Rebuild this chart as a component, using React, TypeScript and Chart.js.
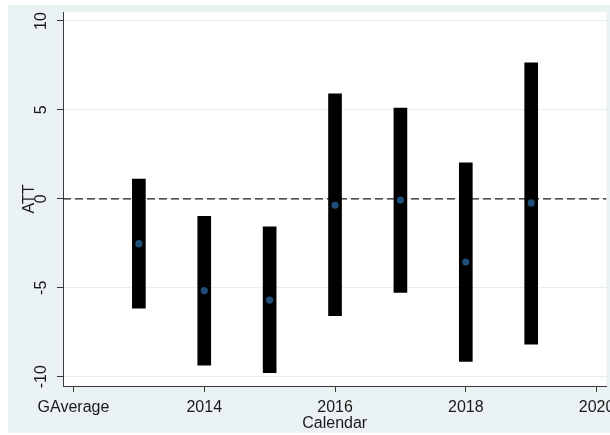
import React, { useEffect, useRef } from "react";
import { Chart, registerables } from "chart.js";

Chart.register(...registerables);

// Event-study estimates by calendar year
const YEARS = [2013, 2014, 2015, 2016, 2017, 2018, 2019];
const ATT = [-2.52, -5.16, -5.69, -0.36, -0.07, -3.55, -0.23];
const CI_LOW = [-6.14, -9.35, -9.78, -6.57, -5.26, -9.14, -8.17];
const CI_HIGH = [1.11, -0.98, -1.58, 5.9, 5.1, 2.03, 7.65];

// Axis ticks
const X_TICKS = [2012, 2014, 2016, 2018, 2020];
const X_TICK_LABELS = ["GAverage", "2014", "2016", "2018", "2020"];
const Y_TICKS = [-10, -5, 0, 5, 10];
const REF_LINE = 0;

const BG = "#eaf2f3";
const TEXT = "#1a1a1a";
const AXIS = "#3a3a3a";
const FONT = "'Liberation Sans', Arial, Helvetica, sans-serif";

const backdrop = {
  id: "backdrop",
  beforeDraw(chart: any) {
    const { ctx, chartArea: a, width, height } = chart;
    ctx.save();
    ctx.fillStyle = BG;
    ctx.fillRect(0, 0, width, height);
    ctx.fillStyle = "#ffffff";
    ctx.fillRect(a.left, a.top, a.right - a.left, a.bottom - a.top);
    ctx.restore();
  },
};

const refLine = {
  id: "refLine",
  beforeDatasetsDraw(chart: any) {
    const { ctx, chartArea: a, scales } = chart;
    const y = scales.y.getPixelForValue(REF_LINE);
    ctx.save();
    ctx.strokeStyle = "#222222";
    ctx.lineWidth = 1.2;
    ctx.setLineDash([8, 4]);
    ctx.beginPath();
    ctx.moveTo(a.left, y);
    ctx.lineTo(a.right, y);
    ctx.stroke();
    ctx.restore();
  },
};

export default function App() {
  const ref = useRef<HTMLCanvasElement | null>(null);

  useEffect(() => {
    if (!ref.current) return;
    const chart = new Chart(ref.current, {
      type: "bar",
      data: {
        datasets: [
          {
            type: "bar",
            data: YEARS.map((x, i) => ({ x, y: [CI_LOW[i], CI_HIGH[i]] })) as any,
            backgroundColor: "#000000",
            borderWidth: 0,
            borderSkipped: false,
            barThickness: 13,
            order: 2,
          },
          {
            type: "scatter",
            data: YEARS.map((x, i) => ({ x, y: ATT[i] })),
            backgroundColor: "#1f4e79",
            borderWidth: 0,
            pointRadius: 3.6,
            pointHoverRadius: 3.6,
            order: 1,
          } as any,
        ],
      },
      options: {
        animation: false,
        responsive: false,
        maintainAspectRatio: false,
        layout: { padding: { top: 7, right: 3.5, bottom: 0, left: 0 } },
        plugins: { legend: { display: false }, tooltip: { enabled: false } },
        scales: {
          x: {
            type: "linear",
            min: 2011.84,
            max: 2020.15,
            offset: false,
            afterBuildTicks: (s: any) => {
              s.ticks = X_TICKS.map((v) => ({ value: v }));
            },
            afterFit: (s: any) => {
              s.height = 47;
              s.paddingLeft = 0;
              s.paddingRight = 0;
            },
            grid: {
              offset: false,
              drawOnChartArea: false,
              drawTicks: true,
              tickLength: 6,
              tickColor: AXIS,
            },
            border: { display: true, color: AXIS, width: 1 },
            ticks: {
              padding: 6.2,
              maxRotation: 0,
              minRotation: 0,
              autoSkip: false,
              color: TEXT,
              font: { family: FONT, size: 16, lineHeight: 1.2 },
              callback: (v: any) => {
                const i = X_TICKS.indexOf(Number(v));
                return i >= 0 ? X_TICK_LABELS[i] : "";
              },
            },
            title: {
              display: true,
              text: "Calendar",
              color: TEXT,
              font: { family: FONT, size: 16, lineHeight: 1 },
              padding: { top: 0, bottom: 1 },
            },
          },
          y: {
            type: "linear",
            min: -10.523,
            max: 10.506,
            afterBuildTicks: (s: any) => {
              s.ticks = Y_TICKS.map((v) => ({ value: v }));
            },
            afterFit: (s: any) => {
              s.width = 55;
              s.paddingTop = 0;
              s.paddingBottom = 0;
            },
            grid: {
              color: "#e4edef",
              lineWidth: 1,
              drawTicks: true,
              tickLength: 6,
              tickColor: AXIS,
            },
            border: { display: true, color: AXIS, width: 1 },
            ticks: {
              padding: 3.4,
              minRotation: 90,
              maxRotation: 90,
              crossAlign: "center",
              autoSkip: false,
              color: TEXT,
              font: { family: FONT, size: 16, lineHeight: 1.2 },
              callback: (v: any) => String(v),
            },
            title: {
              display: true,
              text: "ATT",
              color: TEXT,
              font: { family: FONT, size: 16, lineHeight: 1.2 },
              padding: { top: 12.4, bottom: 0 },
            },
          },
        },
      },
      plugins: [backdrop, refLine],
    });
    return () => chart.destroy();
  }, []);

  return (
    <div style={{ position: "absolute", left: 8, top: 5, width: 602, height: 428 }}>
      <canvas ref={ref} width={602} height={428} style={{ display: "block" }} />
    </div>
  );
}
